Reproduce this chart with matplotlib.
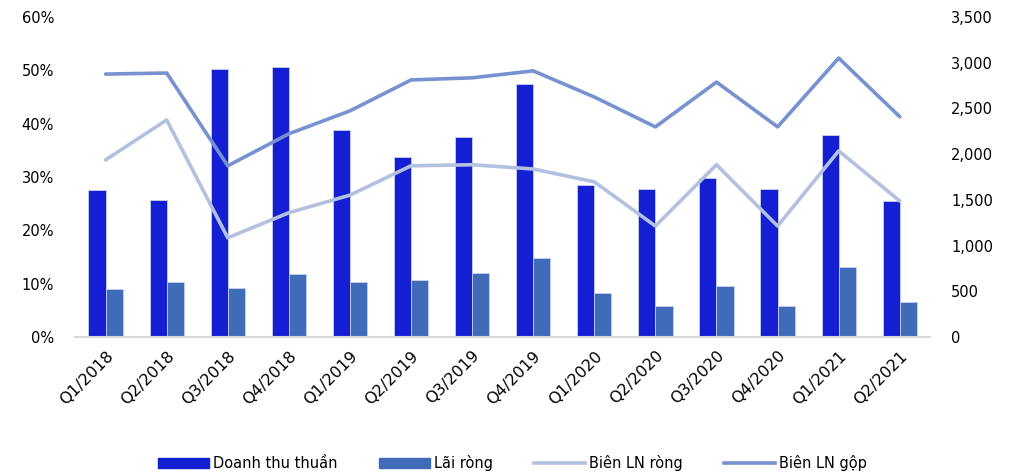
import numpy as np
import matplotlib.pyplot as plt
from matplotlib.patches import Patch
from matplotlib.lines import Line2D

plt.rcParams['font.family'] = ['DejaVu Sans']

# data
quarters = ["Q1/2018", "Q2/2018", "Q3/2018", "Q4/2018",
            "Q1/2019", "Q2/2019", "Q3/2019", "Q4/2019",
            "Q1/2020", "Q2/2020", "Q3/2020", "Q4/2020",
            "Q1/2021", "Q2/2021"]
doanh_thu = [1610, 1500, 2930, 2955, 2265, 1970, 2190, 2770,
             1665, 1620, 1740, 1620, 2210, 1490]
lai_rong = [525, 605, 540, 690, 605, 625, 700, 865,
            485, 340, 560, 340, 770, 385]
bien_ln_rong = [33.2, 40.7, 18.6, 23.3, 26.6, 32.1, 32.3, 31.5,
                29.1, 20.8, 32.3, 20.8, 34.9, 25.5]
bien_ln_gop = [49.3, 49.5, 32.1, 38.1, 42.4, 48.2, 48.6, 49.9,
               45.0, 39.4, 47.8, 39.4, 52.3, 41.3]

c_dt = "#141ED2"
c_lr = "#3F6BB8"
c_br = "#B4C0E0"
c_bg = "#7891D0"

fig = plt.figure(figsize=(10.11, 4.75), dpi=100)
ax = fig.add_axes([0.0742, 0.2905, 0.846, 0.6737])
x = np.arange(len(quarters))
w = 0.28

# bars on the right-hand (value) axis
ax.bar(x - w/2, doanh_thu, w, color=c_dt, edgecolor="#C8D0F0", linewidth=0.6)
ax.bar(x + w/2, lai_rong, w, color=c_lr, edgecolor="#C8D0F0", linewidth=0.6)
ax.set_ylim(0, 3500)
ax.set_yticks(np.arange(0, 3501, 500))
ax.set_yticklabels([f"{v:,}" for v in range(0, 3501, 500)])
ax.set_xlim(-0.5, len(quarters) - 0.5)
ax.set_xticks(x)
ax.set_xticklabels(quarters, rotation=45, ha="right", rotation_mode="anchor",
                   fontsize=11.5)

# lines on the left-hand (percent) axis
ax2 = ax.twinx()
ax.yaxis.tick_right()
ax2.yaxis.tick_left()
ax2.plot(x, bien_ln_rong, color=c_br, lw=2.6, solid_capstyle="round")
ax2.plot(x, bien_ln_gop, color=c_bg, lw=2.6, solid_capstyle="round")
ax2.set_ylim(0, 60)
ax2.set_yticks(np.arange(0, 61, 10))
ax2.set_yticklabels([f"{v}%" for v in range(0, 61, 10)])

for a in (ax, ax2):
    for s in a.spines.values():
        s.set_visible(False)
    a.tick_params(axis="y", length=0, labelsize=10.5, colors="#000000")
ax.tick_params(axis="x", length=0, colors="#000000")
ax.spines["bottom"].set_visible(True)
ax.spines["bottom"].set_color("#D9D9D9")
ax.spines["bottom"].set_linewidth(1.5)
ax.tick_params(axis="y", pad=15)
ax.tick_params(axis="x", pad=8)
ax2.tick_params(axis="y", pad=15)

handles = [Patch(color=c_dt), Patch(color=c_lr),
           Line2D([], [], color=c_br, lw=2.6), Line2D([], [], color=c_bg, lw=2.6)]
labels = ["Doanh thu thuần", "Lãi ròng", "Biên LN ròng", "Biên LN gộp"]
fig.legend(handles, labels, loc="center", bbox_to_anchor=(0.507, 0.025), ncol=4,
           frameon=False, fontsize=10.5, handlelength=3.5, handletextpad=0.3,
           columnspacing=2.8)

plt.savefig("out.png", dpi=100)
